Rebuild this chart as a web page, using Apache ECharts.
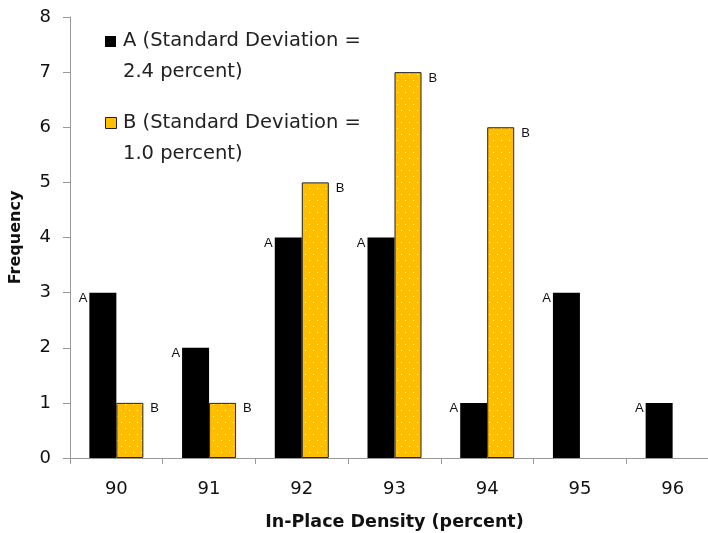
<!DOCTYPE html>
<html>
<head>
<meta charset="utf-8">
<style>html,body{margin:0;padding:0;background:#fff;}#c{width:708px;height:533px;}</style>
<script src="https://cdn.jsdelivr.net/npm/echarts@6/dist/echarts.min.js"></script>
</head>
<body>
<div id="c"></div>
<script>
const categories = ['90', '91', '92', '93', '94', '95', '96'];
const seriesA = [3, 2, 4, 4, 1, 3, 1];
const seriesB = [1, 1, 5, 7, 6, null, null];
const legendA = 'A (Standard Deviation =\n2.4 percent)';
const legendB = 'B (Standard Deviation =\n1.0 percent)';
const yTicks = [0, 1, 2, 3, 4, 5, 6, 7, 8];

const yellow = '#FFBE00';
function makePattern() {
  const c = document.createElement('canvas');
  c.width = 8; c.height = 12;
  const g = c.getContext('2d');
  g.fillStyle = yellow; g.fillRect(0, 0, 8, 12);
  g.fillStyle = 'rgba(255,255,255,0.9)';
  g.fillRect(1, 2, 1, 1);
  g.fillRect(5, 8, 1, 1);
  return c;
}

const tickFont = '"DejaVu Sans", sans-serif';
const chart = echarts.init(document.getElementById('c'));
chart.setOption({
  backgroundColor: '#fff',
  animation: false,
  grid: { left: 70, right: -11, top: 17, bottom: 75, containLabel: false, outerBoundsMode: 'none' },
  xAxis: {
    type: 'category',
    data: categories,
    name: 'In-Place Density (percent)',
    nameLocation: 'middle',
    nameGap: 55,
    nameTextStyle: { fontFamily: tickFont, fontWeight: 'bold', fontSize: 17.5, color: '#111' },
    axisLine: { lineStyle: { color: '#999', width: 1 } },
    axisTick: { show: true, length: 6, lineStyle: { color: '#999' } },
    axisLabel: { fontFamily: tickFont, fontSize: 18, color: '#111', margin: 22 }
  },
  yAxis: {
    type: 'value',
    min: yTicks[0],
    max: yTicks[yTicks.length - 1],
    interval: 1,
    name: 'Frequency',
    nameLocation: 'middle',
    nameGap: 46,
    nameTextStyle: { fontFamily: tickFont, fontWeight: 'bold', fontSize: 16, color: '#111' },
    splitLine: { show: false },
    axisLine: { show: true, lineStyle: { color: '#999', width: 1 } },
    axisTick: { show: true, length: 7, lineStyle: { color: '#999' } },
    axisLabel: { fontFamily: tickFont, fontSize: 18, color: '#111', margin: 19 }
  },
  series: [
    {
      name: 'A', type: 'bar', data: seriesA, barWidth: 27, barGap: '0%',
      itemStyle: { color: '#000' },
      label: {
        show: true, formatter: 'A', position: [-2, 6], align: 'right', verticalAlign: 'middle',
        fontFamily: '"Liberation Sans", Arial, sans-serif', fontSize: 13, color: '#111'
      }
    },
    {
      name: 'B', type: 'bar', data: seriesB, barWidth: 27, barGap: '0%',
      itemStyle: { color: { image: makePattern(), repeat: 'repeat' }, borderColor: '#222', borderWidth: 1 },
      label: {
        show: true, formatter: 'B', position: ['100%', 6], offset: [7, 0], align: 'left', verticalAlign: 'middle',
        fontFamily: '"Liberation Sans", Arial, sans-serif', fontSize: 13, color: '#111'
      }
    }
  ],
  graphic: [
    { type: 'rect', left: 105, top: 36, shape: { width: 11, height: 11 }, style: { fill: '#000' } },
    { type: 'text', left: 123, top: 25, style: { text: legendA, fontFamily: tickFont, fontSize: 19.5, lineHeight: 31, fill: '#222' } },
    { type: 'rect', left: 105, top: 117, shape: { width: 11, height: 11 }, style: { fill: yellow, stroke: '#222', lineWidth: 1 } },
    { type: 'text', left: 123, top: 107, style: { text: legendB, fontFamily: tickFont, fontSize: 19.5, lineHeight: 31, fill: '#222' } }
  ]
});
</script>
</body>
</html>
